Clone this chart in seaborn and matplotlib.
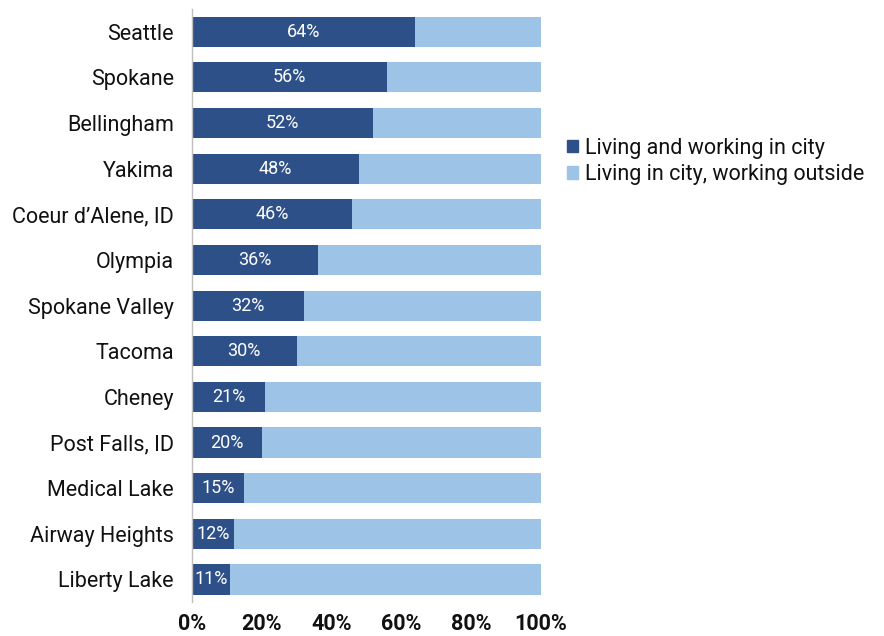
import numpy as np
import pandas as pd
import matplotlib
matplotlib.use("Agg")
import matplotlib.pyplot as plt
import seaborn as sns
from matplotlib.patches import Patch

# data
cities = ["Seattle", "Spokane", "Bellingham", "Yakima", "Coeur d\u2019Alene, ID",
          "Olympia", "Spokane Valley", "Tacoma", "Cheney", "Post Falls, ID",
          "Medical Lake", "Airway Heights", "Liberty Lake"]
inside = [64, 56, 52, 48, 46, 36, 32, 30, 21, 20, 15, 12, 11]
outside = [100 - v for v in inside]

dark = "#2E5089"
light = "#9DC3E6"

df = pd.DataFrame({"city": cities, "inside": inside, "outside": outside})
df["total"] = df["inside"] + df["outside"]

sns.set_style("white")
plt.rcParams["font.family"] = ["Roboto", "DejaVu Sans"]

fig = plt.figure(figsize=(8.84, 6.36), dpi=100)
ax = fig.add_axes([0.217, 0.053, 0.395, 0.933])

sns.barplot(data=df, y="city", x="total", color=light, width=0.66,
            saturation=1, linewidth=0, ax=ax, orient="h")
sns.barplot(data=df, y="city", x="inside", color=dark, width=0.66,
            saturation=1, linewidth=0, ax=ax, orient="h")

# labels in the middle of the dark part
for i, v in enumerate(df["inside"]):
    ax.text(v / 2, i, f"{v}%", color="white", ha="center", va="center",
            fontsize=13)

ax.set_xlim(0, 100)
ax.set_ylim(12.5, -0.5)
ax.set_xticks([0, 20, 40, 60, 80, 100])
ax.set_xticklabels([f"{t}%" for t in [0, 20, 40, 60, 80, 100]],
                   fontsize=15.5, fontweight="bold")
ax.tick_params(axis="y", labelsize=15.5, length=0, pad=13, labelcolor="#111111")
ax.tick_params(axis="x", length=0, pad=8, labelcolor="#111111")
ax.set_xlabel("")
ax.set_ylabel("")
for s in ["top", "right", "bottom"]:
    ax.spines[s].set_visible(False)
ax.spines["left"].set_color("#BFBFBF")
ax.spines["left"].set_linewidth(1)

handles = [Patch(color=dark, label="Living and working in city"),
           Patch(color=light, label="Living in city, working outside")]
leg = fig.legend(handles=handles, loc="upper left", bbox_to_anchor=(0.632, 0.797),
                 frameon=False, fontsize=15.5, handlelength=0.5, handleheight=0.5,
                 handletextpad=0.3, labelspacing=0.25, borderaxespad=0)
for t in leg.get_texts():
    t.set_color("#111111")

fig.savefig("out.png", dpi=100)
